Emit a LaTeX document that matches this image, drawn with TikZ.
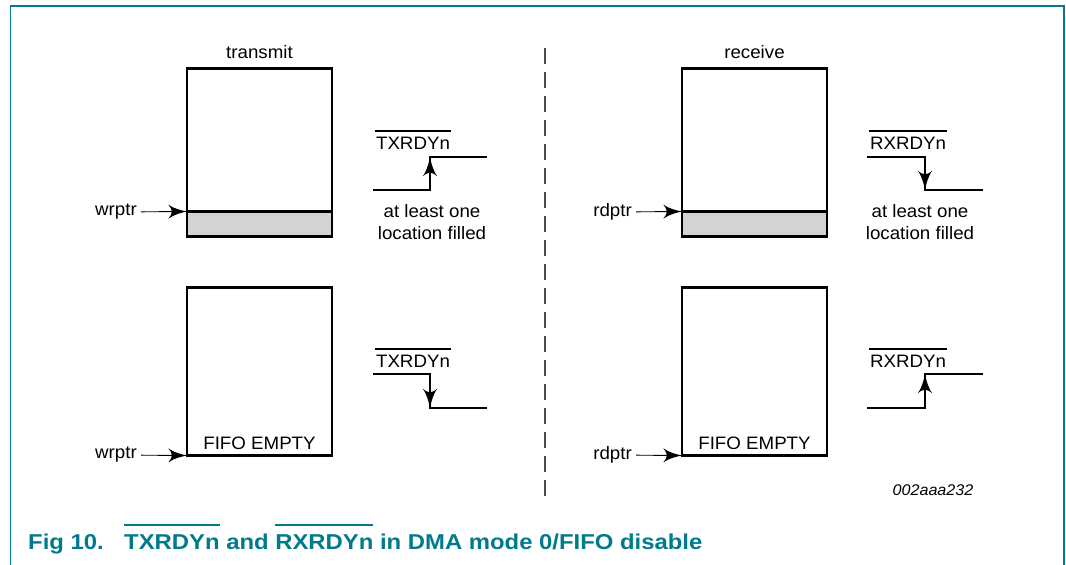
\documentclass[tikz,border=0pt]{standalone}
\usepackage{fontspec}
\setmainfont{Liberation Sans}[FakeStretch=1.04]
\newfontfamily\capfont{Liberation Sans}[FakeStretch=1.11]
\usetikzlibrary{arrows}
\usetikzlibrary{decorations.markings}
\usetikzlibrary{positioning}
\tikzset{sig/.style = {decoration={markings,
                                   mark=at position 1 with {\arrow[scale=2]{latex'}}},
                       postaction={decorate}}}
\tikzset{ptr/.style = {line width=0.9pt,
                       decoration={markings,
                                   mark=at position 1 with {\arrow[scale=3.4]{latex'}}},
                       postaction={decorate}}}
\tikzset{fifo/.style = {draw, line width=2.3pt, outer sep=0pt, inner sep=0pt,
                        minimum width=145pt, minimum height=168pt}}
\tikzset{slot/.style = {fifo, fill=sgray, minimum height=25pt}}
\tikzset{wave/.style = {line width=2.3pt}}
\tikzset{lbl/.style = {inner sep=0pt}}
\definecolor{nteal}{RGB}{0,122,140}
\definecolor{sgray}{RGB}{211,211,211}
\newcommand{\barsig}[1]{\vbox{\hrule height 1.2pt\kern 5pt\hbox{\kern 1pt#1\kern 1pt}}}
\newcommand{\capsig}[1]{\vbox{\hrule height 2pt\kern 8.5pt\hbox{#1}}}

\begin{document}
\begin{tikzpicture}[x=1pt, y=-1pt, font=\fontsize{18}{22.5}\selectfont]
    \useasboundingbox (0,0) rectangle (1066,565);
    \draw [nteal, line width=1.2pt] (10.5,565) -- (10.5,6) -- (1064,6) -- (1064,565);
    \draw [black!70, line width=1.3pt, dash pattern=on 16pt off 8pt] (545,48) -- (545,497);

    % transmit side
    \node [fifo] (txtop) at (259.5,152.5) {};
    \node [slot, anchor=south] (txslot) at (txtop.south) {};
    \node [lbl, above=10pt of txtop] (txname) {transmit};
    \node [lbl, inner xsep=4pt, anchor=east] (wrtop) at (141,212) {wrptr};
    \draw [ptr] (wrtop) -- (txslot.north west);
    \node [lbl, anchor=base] (txsig) at (413,149) {\barsig{TXRDYn}};
    \draw [wave] (373,190) -- (430,190) -- (430,157) -- (487,157);
    \draw [wave, sig] (430,190) -- (430,157);
    \node [lbl, align=center] (txnote) at (432,222) {at least one\\location filled};

    \node [fifo] (txbot) at (259.5,371.5) {};
    \node [lbl, above=6pt of txbot.south] (txempty) {FIFO EMPTY};
    \node [lbl, inner xsep=4pt, anchor=east] (wrbot) at (141,455) {wrptr};
    \draw [ptr] (wrbot) -- (txbot.south west);
    \node [lbl, anchor=base] (txsig2) at (413,367) {\barsig{TXRDYn}};
    \draw [wave] (373,374) -- (430,374) -- (430,408) -- (487,408);
    \draw [wave, sig] (430,374) -- (430,408);

    % receive side
    \begin{scope}[shift={(495,0)}]
      \node [fifo] (rxtop) at (259.5,152.5) {};
      \node [slot, anchor=south] (rxslot) at (rxtop.south) {};
      \node [lbl, above=10pt of rxtop] (rxname) {receive};
      \node [lbl, inner xsep=4pt, anchor=east] (rdtop) at (141,212) {rdptr};
      \draw [ptr] (rdtop) -- (rxslot.north west);
      \node [lbl, anchor=base] (rxsig) at (413,149) {\barsig{RXRDYn}};
      \draw [wave] (372,157) -- (430,157) -- (430,190) -- (488,190);
      \draw [wave, sig] (430,157) -- (430,190);
      \node [lbl, align=center] (rxnote) at (425,222) {at least one\\location filled};

      \node [fifo] (rxbot) at (259.5,371.5) {};
      \node [lbl, above=6pt of rxbot.south] (rxempty) {FIFO EMPTY};
      \node [lbl, inner xsep=4pt, anchor=east] (rdbot) at (141,455) {rdptr};
      \draw [ptr] (rdbot) -- (rxbot.south west);
      \node [lbl, anchor=base] (rxsig2) at (413,367) {\barsig{RXRDYn}};
      \draw [wave] (372,408) -- (430,408) -- (430,374) -- (488,374);
      \draw [wave, sig] (430,408) -- (430,374);
    \end{scope}

    \node [lbl, font=\itshape\fontsize{15.5}{18}\selectfont] (figid) at (933,490) {002aaa232};

    \node [lbl, anchor=base west, text=nteal, font=\capfont\bfseries\fontsize{21.5}{24}\selectfont]
        (capnum) at (28,549) {Fig 10.};
    \node [lbl, anchor=base west, text=nteal, font=\capfont\bfseries\fontsize{21.5}{24}\selectfont]
        (captext) at (124,549) {\capsig{TXRDYn} and \capsig{RXRDYn} in DMA mode 0/FIFO disable};
\end{tikzpicture}
\end{document}
